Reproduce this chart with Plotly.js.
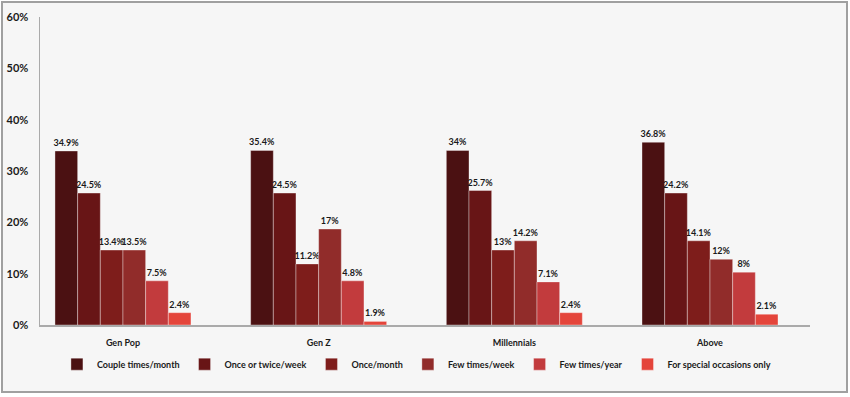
<!DOCTYPE html>
<html>
<head>
<meta charset="utf-8">
<script src="https://cdn.plot.ly/plotly-3.0.1.min.js"></script>
<style>
  html, body { margin: 0; padding: 0; background: #ffffff; }
  #wrap { position: relative; width: 850px; height: 397px; }
  #frame { position: absolute; left: 1px; top: 1px; width: 843px; height: 388px;
           border: 2px solid #a0a0a0; background: #f6f6f6; box-sizing: content-box; }
  #chart { position: absolute; left: 0; top: 0; width: 850px; height: 397px; }
</style>
</head>
<body>
<div id="wrap"><div id="frame"></div><div id="chart"></div></div>
<script>
// Categories (x axis)
const categories = ["Gen Pop", "Gen Z", "Millennials", "Above"];

// Series names
const seriesNames = ["Couple times/month", "Once or twice/week", "Once/month",
                     "Few times/week", "Few times/year", "For special occasions only"];

// Bar heights as drawn in the picture (percent)
const coupleMonth   = [33.9, 34.0, 34.0, 35.6];
const onceTwiceWeek = [25.7, 25.7, 26.2, 25.7];
const onceMonth     = [14.6, 11.9, 14.6, 16.4];
const fewWeek       = [14.6, 18.7, 16.4, 12.8];
const fewYear       = [8.6, 8.6, 8.4, 10.3];
const specialOnly   = [2.4, 0.7, 2.4, 2.1];

// Data labels as printed in the picture
const coupleMonthLbl   = ["34.9%", "35.4%", "34%", "36.8%"];
const onceTwiceWeekLbl = ["24.5%", "24.5%", "25.7%", "24.2%"];
const onceMonthLbl     = ["13.4%", "11.2%", "13%", "14.1%"];
const fewWeekLbl       = ["13.5%", "17%", "14.2%", "12%"];
const fewYearLbl       = ["7.5%", "4.8%", "7.1%", "8%"];
const specialOnlyLbl   = ["2.4%", "1.9%", "2.4%", "2.1%"];

// Y axis ticks
const yTickVals = [0, 10, 20, 30, 40, 50, 60];
const yTickText = ["0%", "10%", "20%", "30%", "40%", "50%", "60%"];

const colors = ["#4b1112", "#681516", "#7e1d1b", "#912c2a", "#c23b3d", "#e4453b"];
const values = [coupleMonth, onceTwiceWeek, onceMonth, fewWeek, fewYear, specialOnly];
const labels = [coupleMonthLbl, onceTwiceWeekLbl, onceMonthLbl, fewWeekLbl, fewYearLbl, specialOnlyLbl];

const FONT = "Lato, 'Open Sans', sans-serif";

const traces = seriesNames.map((name, i) => ({
  type: "bar",
  name: name,
  x: categories,
  y: values[i],
  text: labels[i],
  textposition: "outside",
  constraintext: "none",
  cliponaxis: false,
  textfont: { family: FONT, size: 9, color: "#1a1a1a", weight: 700 },
  marker: { color: colors[i], line: { color: "rgba(255,255,255,0.35)", width: 1 } },
  hoverinfo: "none"
}));

const layout = {
  width: 850,
  height: 397,
  margin: { l: 40, r: 40, t: 17, b: 72, autoexpand: false },
  paper_bgcolor: "rgba(0,0,0,0)",
  plot_bgcolor: "rgba(0,0,0,0)",
  barmode: "group",
  bargap: 0.305,
  bargroupgap: 0,
  showlegend: true,
  legend: {
    orientation: "h",
    x: 0.022, xanchor: "left",
    y: -0.08, yanchor: "top",
    font: { family: FONT, size: 9, color: "#1a1a1a", weight: 700 },
    itemwidth: 30,
    bgcolor: "rgba(0,0,0,0)"
  },
  xaxis: {
    type: "category",
    range: [-0.424, 3.511],
    showline: true,
    linecolor: "#aaaaaa",
    linewidth: 1.5,
    showgrid: false,
    zeroline: false,
    ticks: "",
    tickfont: { family: FONT, size: 9, color: "#1a1a1a", weight: 700 },
    ticklabelstandoff: 9
  },
  yaxis: {
    range: [0, 60],
    tickvals: yTickVals,
    ticktext: yTickText,
    showline: true,
    linecolor: "#aaaaaa",
    linewidth: 1.5,
    showgrid: false,
    zeroline: false,
    ticks: "",
    tickfont: { family: FONT, size: 11, color: "#1a1a1a", weight: 700 },
    ticklabelstandoff: 8
  }
};

Plotly.newPlot("chart", traces, layout, { displayModeBar: false, staticPlot: true });
</script>
</body>
</html>
